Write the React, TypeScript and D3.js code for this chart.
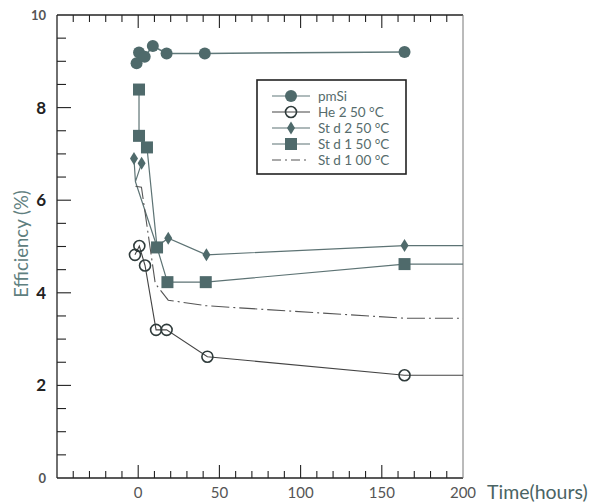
import React from "react";
import * as d3 from "d3";

// efficiency vs. time
const pmSiTime = [-1, 0.5, 4, 9, 17.5, 41, 164];
const pmSiEff = [8.96, 9.19, 9.1, 9.33, 9.17, 9.17, 9.2];

const he250Time = [-2, 0.7, 4.2, 11, 17.5, 42.6, 164, 200];
const he250Eff = [4.82, 5.01, 4.59, 3.2, 3.2, 2.62, 2.22, 2.22];
const he250Mark = [1, 1, 1, 1, 1, 1, 1, 0];

const std250Time = [-2.6, -1.7, 2.1, -1.7, 11.5, 18.5, 42, 164, 200];
const std250Eff = [6.9, 6.4, 6.8, 6.4, 5.0, 5.18, 4.82, 5.02, 5.02];
const std250Mark = [1, 0, 1, 0, 0, 1, 1, 1, 0];

const std150Time = [0.5, 0.5, 5.4, 11.6, 18, 41.6, 164, 200];
const std150Eff = [8.39, 7.39, 7.14, 4.98, 4.23, 4.23, 4.62, 4.62];
const std150Mark = [1, 1, 1, 1, 1, 1, 1, 0];

const std100Time = [-1.7, 2, 10.5, 18.5, 42, 164, 200];
const std100Eff = [6.3, 6.28, 4.2, 3.84, 3.72, 3.45, 3.45];

const legendLabels = ["pmSi", "He 2 50 °C", "St d 2 50 °C", "St d 1 50 °C", "St d 1 00 °C"];
const xTickLabels = [0, 50, 100, 150, 200];
const yTickLabels = [0, 2, 4, 6, 8, 10];

const teal = "#4f6a6b";
const dark = "#2f3b3b";
const font = "Lato, 'Open Sans', sans-serif";

const x = d3.scaleLinear().domain([-50, 200]).range([57, 463]);
const y = d3.scaleLinear().domain([0, 10]).range([478, 15]);

type Pt = { t: number; v: number; m: number };
const zip = (ts: number[], vs: number[], ms?: number[]): Pt[] =>
  ts.map((t, i) => ({ t, v: vs[i], m: ms ? ms[i] : 1 }));

const line = d3.line<Pt>().x(d => x(d.t)).y(d => y(d.v));

const Marker = ({ kind, cx, cy }: { kind: string; cx: number; cy: number }) => {
  if (kind === "fcircle") return <circle cx={cx} cy={cy} r={6} fill={teal} />;
  if (kind === "ocircle")
    return <circle cx={cx} cy={cy} r={5.5} fill="white" fillOpacity={0} stroke={dark} strokeWidth={1.6} />;
  if (kind === "diamond")
    return <path d={`M${cx},${cy - 6.5}L${cx + 4},${cy}L${cx},${cy + 6.5}L${cx - 4},${cy}Z`} fill={teal} />;
  if (kind === "square") return <rect x={cx - 6} y={cy - 6} width={12} height={12} fill={teal} />;
  return null;
};

const series = [
  { pts: zip(pmSiTime, pmSiEff), kind: "fcircle", stroke: "#60797a", dash: undefined, w: 1.5 },
  { pts: zip(he250Time, he250Eff, he250Mark), kind: "ocircle", stroke: "#444", dash: undefined, w: 1.1 },
  { pts: zip(std250Time, std250Eff, std250Mark), kind: "diamond", stroke: "#5d7374", dash: undefined, w: 1.2 },
  { pts: zip(std150Time, std150Eff, std150Mark), kind: "square", stroke: "#5d7374", dash: undefined, w: 1.2 },
  { pts: zip(std100Time, std100Eff), kind: "none", stroke: "#555", dash: "18,4,2,4", w: 1.1 },
];

export default function App() {
  const xMinor = d3.range(-40, 200, 10);
  const yMinor = d3.range(0.5, 10, 0.5);

  return (
    <svg width={602} height={502} style={{ position: "absolute", left: 0, top: 0, background: "white" }}>
      {/* frame */}
      <line x1={57} x2={463} y1={478} y2={478} stroke="#222" strokeWidth={1.3} />
      <line x1={57} x2={463} y1={15} y2={15} stroke="#222" strokeWidth={1.3} />
      <line x1={57} x2={57} y1={15} y2={478} stroke="#222" strokeWidth={1.3} />
      <line x1={463} x2={463} y1={15} y2={478} stroke="#777" strokeWidth={1} />

      {/* x ticks, bottom and top, pointing inward */}
      {xMinor.map(t => {
        const len = t % 50 === 0 ? 13 : 7;
        return (
          <g key={"xt" + t}>
            <line x1={x(t)} x2={x(t)} y1={478} y2={478 - len} stroke="#222" strokeWidth={1.1} />
            <line x1={x(t)} x2={x(t)} y1={15} y2={15 + len} stroke="#222" strokeWidth={1.1} />
          </g>
        );
      })}
      {/* y ticks */}
      {yMinor.map(v => {
        const len = v % 2 === 0 ? 14 : 9;
        return <line key={"yt" + v} x1={57} x2={57 + len} y1={y(v)} y2={y(v)} stroke="#222" strokeWidth={1.1} />;
      })}

      {xTickLabels.map(t => (
        <text key={"xl" + t} x={x(t)} y={498} textAnchor="middle" fontFamily={font} fontSize={15} fill="#555">
          {t}
        </text>
      ))}
      <text x={487} y={499} fontFamily={font} fontSize={19.5} fill="#4a6464">Time(hours)</text>

      {yTickLabels.map(v => {
        const edge = v === 0 || v === 10;
        return (
          <text key={"yl" + v} x={46} y={y(v)} dy="0.35em" textAnchor="end" fontFamily={font}
            fontSize={edge ? 13 : 17} fontWeight="bold" fill={edge ? "#555" : "#222"}>
            {v}
          </text>
        );
      })}
      <text transform="translate(22,244) rotate(-90)" textAnchor="middle" dy="0.35em" fontFamily={font}
        fontSize={18.5} fill="#5f8080">Efficiency (%)</text>

      {/* series */}
      {series.map((s, i) => (
        <g key={"s" + i}>
          <path d={line(s.pts) || ""} fill="none" stroke={s.stroke} strokeWidth={s.w} strokeDasharray={s.dash} />
          {s.pts.filter(p => p.m).map((p, j) => (
            <Marker key={j} kind={s.kind} cx={x(p.t)} cy={y(p.v)} />
          ))}
        </g>
      ))}

      {/* legend */}
      <g>
        <rect x={257} y={80} width={149} height={94} fill="white" stroke="#222" strokeWidth={1.6} />
        {series.map((s, i) => {
          const ly = 96 + i * 16;
          return (
            <g key={"lg" + i}>
              <line x1={272} x2={310} y1={ly} y2={ly} stroke={s.stroke} strokeWidth={1.2}
                strokeDasharray={s.dash ? "9,4,2,4" : undefined} />
              <Marker kind={s.kind} cx={291} cy={ly} />
              <text x={318} y={ly} dy="0.35em" fontFamily={font} fontSize={13.5} fill="#566c6c">
                {legendLabels[i]}
              </text>
            </g>
          );
        })}
      </g>
    </svg>
  );
}
